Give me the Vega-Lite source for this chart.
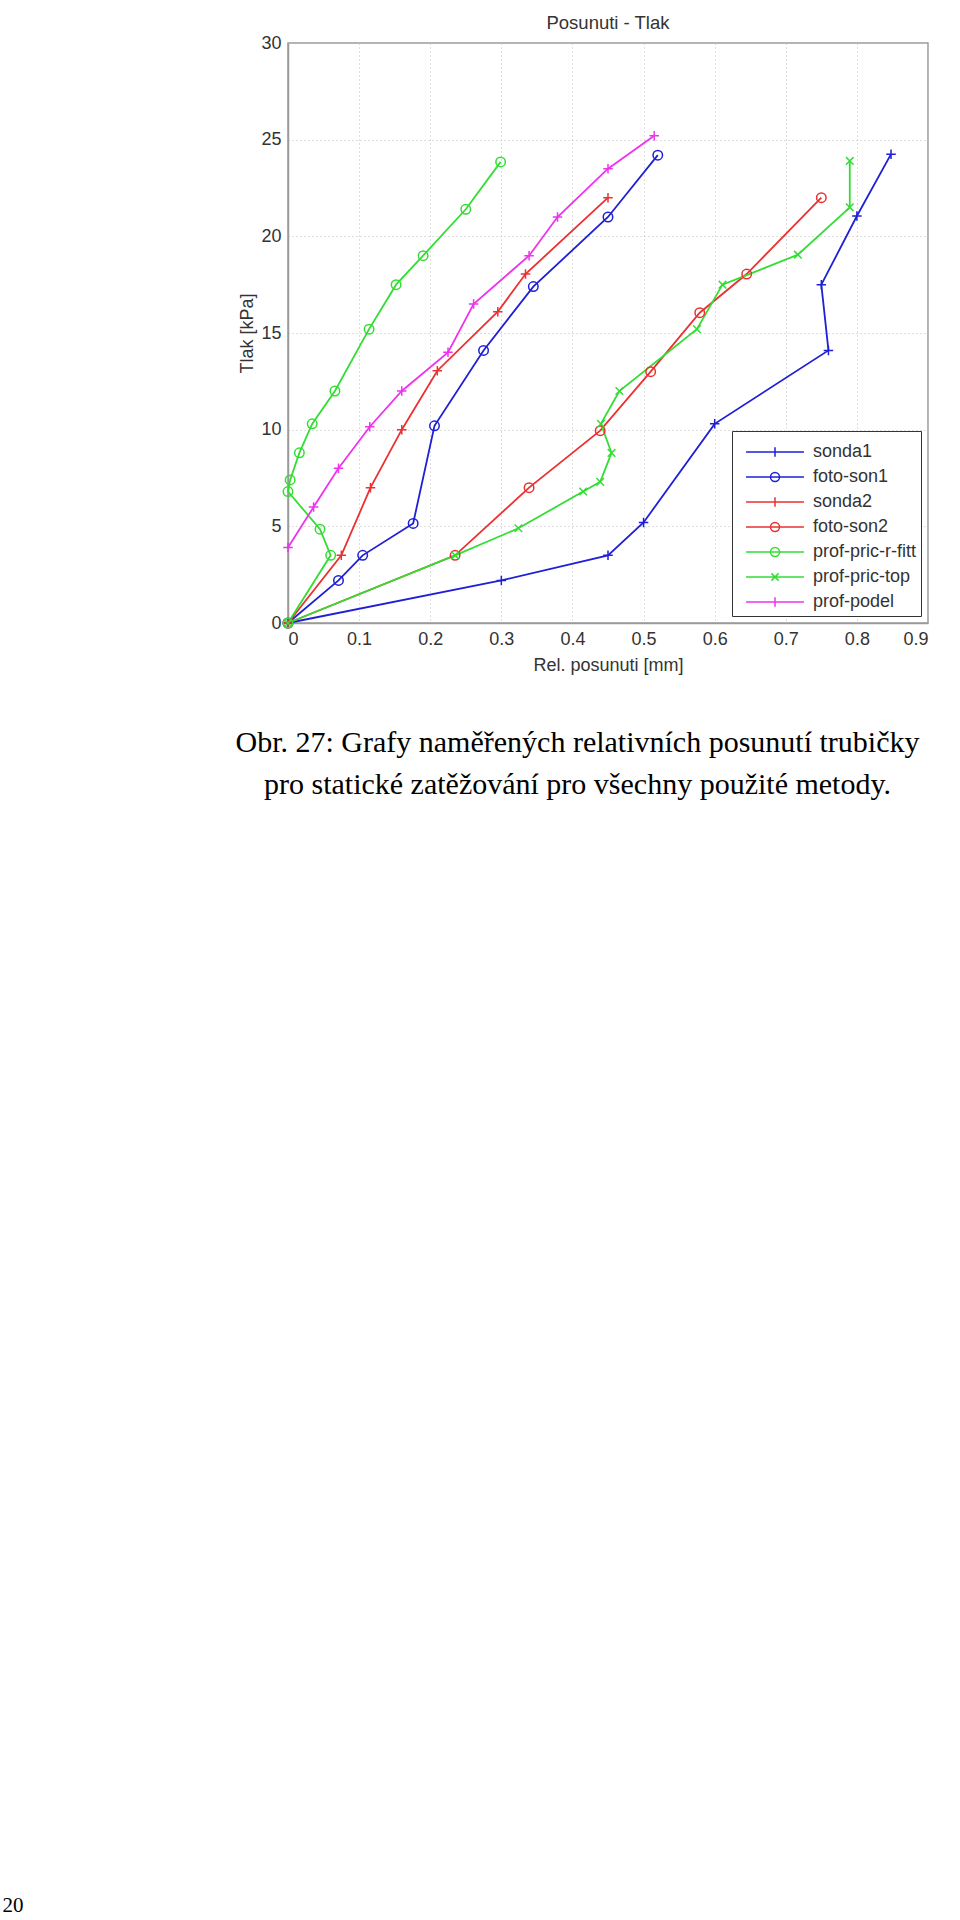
{
  "$schema": "https://vega.github.io/schema/vega-lite/v6.json",
  "background": "white",
  "padding": {"left": 2, "top": 12, "right": 0, "bottom": 0},
  "config": {
    "font": "Liberation Sans",
    "view": {"stroke": "#9a9a9a", "strokeWidth": 1.5},
    "axis": {
      "labelFont": "Liberation Sans", "labelFontSize": 18, "labelColor": "#333333",
      "titleFont": "Liberation Sans", "titleFontSize": 18, "titleFontWeight": "normal", "titleColor": "#333333",
      "domainColor": "#9a9a9a", "domainWidth": 1.5, "ticks": false,
      "gridColor": "#bdbdbd", "gridDash": [1, 3], "gridWidth": 1, "labelPadding": 7
    }
  },
  "title": {"text": "20", "orient": "bottom", "anchor": "start", "frame": "bounds", "dx": -233, "offset": 1095, "font": "Liberation Serif", "fontSize": 21, "fontWeight": "normal", "color": "#000000"},
  "resolve": {"scale": {"color": "independent", "shape": "independent"}, "legend": {"color": "independent", "shape": "independent"}},
  "vconcat": [
    {
      "title": {"text": ["Obr. 27: Grafy naměřených relativních posunutí trubičky", "pro statické zatěžování pro všechny použité metody."], "orient": "bottom", "anchor": "middle", "frame": "bounds", "dx": -6, "offset": 53, "font": "Liberation Serif", "fontSize": 30, "lineHeight": 42, "fontWeight": "normal", "color": "#000000"},
      "resolve": {"scale": {"color": "independent", "shape": "independent"}, "legend": {"color": "independent", "shape": "independent"}},
      "vconcat": [
        {
          "title": {"text": "Posunuti - Tlak", "anchor": "middle", "font": "Liberation Sans", "fontSize": 18.5, "fontWeight": "normal", "color": "#333333", "offset": 2},
          "width": 640,
          "height": 580,
          "data": {"values": [
            {"s": "sonda1", "i": 0, "x": 0, "y": 0},
            {"s": "sonda1", "i": 1, "x": 0.3, "y": 2.2},
            {"s": "sonda1", "i": 2, "x": 0.45, "y": 3.5},
            {"s": "sonda1", "i": 3, "x": 0.5, "y": 5.2},
            {"s": "sonda1", "i": 4, "x": 0.6, "y": 10.3},
            {"s": "sonda1", "i": 5, "x": 0.76, "y": 14.1},
            {"s": "sonda1", "i": 6, "x": 0.75, "y": 17.5},
            {"s": "sonda1", "i": 7, "x": 0.8, "y": 21.05},
            {"s": "sonda1", "i": 8, "x": 0.848, "y": 24.25},
            {"s": "foto-son1", "i": 0, "x": 0, "y": 0},
            {"s": "foto-son1", "i": 1, "x": 0.071, "y": 2.2},
            {"s": "foto-son1", "i": 2, "x": 0.105, "y": 3.5},
            {"s": "foto-son1", "i": 3, "x": 0.176, "y": 5.15},
            {"s": "foto-son1", "i": 4, "x": 0.206, "y": 10.2},
            {"s": "foto-son1", "i": 5, "x": 0.275, "y": 14.1},
            {"s": "foto-son1", "i": 6, "x": 0.345, "y": 17.4},
            {"s": "foto-son1", "i": 7, "x": 0.45, "y": 21.0},
            {"s": "foto-son1", "i": 8, "x": 0.52, "y": 24.2},
            {"s": "sonda2", "i": 0, "x": 0, "y": 0},
            {"s": "sonda2", "i": 1, "x": 0.075, "y": 3.5},
            {"s": "sonda2", "i": 2, "x": 0.116, "y": 7.0},
            {"s": "sonda2", "i": 3, "x": 0.16, "y": 10.0},
            {"s": "sonda2", "i": 4, "x": 0.21, "y": 13.05},
            {"s": "sonda2", "i": 5, "x": 0.295, "y": 16.1},
            {"s": "sonda2", "i": 6, "x": 0.334, "y": 18.05},
            {"s": "sonda2", "i": 7, "x": 0.45, "y": 22.0},
            {"s": "foto-son2", "i": 0, "x": 0, "y": 0},
            {"s": "foto-son2", "i": 1, "x": 0.235, "y": 3.5},
            {"s": "foto-son2", "i": 2, "x": 0.339, "y": 7.0},
            {"s": "foto-son2", "i": 3, "x": 0.439, "y": 9.95},
            {"s": "foto-son2", "i": 4, "x": 0.51, "y": 13.0},
            {"s": "foto-son2", "i": 5, "x": 0.579, "y": 16.05},
            {"s": "foto-son2", "i": 6, "x": 0.645, "y": 18.05},
            {"s": "foto-son2", "i": 7, "x": 0.75, "y": 22.0},
            {"s": "prof-pric-r-fitt", "i": 0, "x": 0, "y": 0},
            {"s": "prof-pric-r-fitt", "i": 1, "x": 0.06, "y": 3.5},
            {"s": "prof-pric-r-fitt", "i": 2, "x": 0.045, "y": 4.85},
            {"s": "prof-pric-r-fitt", "i": 3, "x": 0.0, "y": 6.8},
            {"s": "prof-pric-r-fitt", "i": 4, "x": 0.003, "y": 7.4},
            {"s": "prof-pric-r-fitt", "i": 5, "x": 0.016, "y": 8.8},
            {"s": "prof-pric-r-fitt", "i": 6, "x": 0.034, "y": 10.3},
            {"s": "prof-pric-r-fitt", "i": 7, "x": 0.066, "y": 12.0},
            {"s": "prof-pric-r-fitt", "i": 8, "x": 0.114, "y": 15.2},
            {"s": "prof-pric-r-fitt", "i": 9, "x": 0.152, "y": 17.5},
            {"s": "prof-pric-r-fitt", "i": 10, "x": 0.19, "y": 19.0},
            {"s": "prof-pric-r-fitt", "i": 11, "x": 0.25, "y": 21.4},
            {"s": "prof-pric-r-fitt", "i": 12, "x": 0.299, "y": 23.85},
            {"s": "prof-pric-top", "i": 0, "x": 0, "y": 0},
            {"s": "prof-pric-top", "i": 1, "x": 0.235, "y": 3.5},
            {"s": "prof-pric-top", "i": 2, "x": 0.324, "y": 4.9},
            {"s": "prof-pric-top", "i": 3, "x": 0.415, "y": 6.8},
            {"s": "prof-pric-top", "i": 4, "x": 0.439, "y": 7.3},
            {"s": "prof-pric-top", "i": 5, "x": 0.455, "y": 8.8},
            {"s": "prof-pric-top", "i": 6, "x": 0.44, "y": 10.3},
            {"s": "prof-pric-top", "i": 7, "x": 0.466, "y": 12.0},
            {"s": "prof-pric-top", "i": 8, "x": 0.575, "y": 15.2},
            {"s": "prof-pric-top", "i": 9, "x": 0.611, "y": 17.5},
            {"s": "prof-pric-top", "i": 10, "x": 0.717, "y": 19.05},
            {"s": "prof-pric-top", "i": 11, "x": 0.79, "y": 21.5},
            {"s": "prof-pric-top", "i": 12, "x": 0.79, "y": 23.9},
            {"s": "prof-podel", "i": 0, "x": 0, "y": 3.9},
            {"s": "prof-podel", "i": 1, "x": 0.036, "y": 6.0},
            {"s": "prof-podel", "i": 2, "x": 0.071, "y": 8.0},
            {"s": "prof-podel", "i": 3, "x": 0.115, "y": 10.15},
            {"s": "prof-podel", "i": 4, "x": 0.16, "y": 12.0},
            {"s": "prof-podel", "i": 5, "x": 0.225, "y": 14.0},
            {"s": "prof-podel", "i": 6, "x": 0.261, "y": 16.5},
            {"s": "prof-podel", "i": 7, "x": 0.339, "y": 19.0},
            {"s": "prof-podel", "i": 8, "x": 0.379, "y": 21.0},
            {"s": "prof-podel", "i": 9, "x": 0.45, "y": 23.5},
            {"s": "prof-podel", "i": 10, "x": 0.515, "y": 25.2}
          ]},
          "encoding": {
            "x": {"field": "x", "type": "quantitative", "scale": {"domain": [0, 0.9], "nice": false},
                  "axis": {"values": [0, 0.1, 0.2, 0.3, 0.4, 0.5, 0.6, 0.7, 0.8, 0.9], "format": "~g", "title": "Rel. posunuti [mm]", "titlePadding": 8}},
            "y": {"field": "y", "type": "quantitative", "scale": {"domain": [0, 30], "nice": false},
                  "axis": {"values": [0, 5, 10, 15, 20, 25, 30], "format": "d", "title": "Tlak [kPa]", "titlePadding": 4}},
            "color": {"field": "s", "type": "nominal",
                      "scale": {"domain": ["sonda1", "foto-son1", "sonda2", "foto-son2", "prof-pric-r-fitt", "prof-pric-top", "prof-podel"],
                                "range": ["#1f1fd6", "#1f1fd6", "#ec3030", "#ec3030", "#33dd33", "#33dd33", "#ee33ee"]},
                      "legend": {"orient": "bottom-right", "offset": 7, "title": null,
                                 "symbolType": {"expr": "datum.value === 'foto-son1' || datum.value === 'foto-son2' || datum.value === 'prof-pric-r-fitt' ? 'M-1.93,0H1.93M0.3,0A0.3,0.3,0,1,1,-0.3,0A0.3,0.3,0,1,1,0.3,0' : datum.value === 'prof-pric-top' ? 'M-1.93,0H1.93M-0.24,-0.24L0.24,0.24M-0.24,0.24L0.24,-0.24' : 'M-1.93,0H1.93M0,-0.31V0.31'"},
                                 "symbolSize": 900, "symbolStrokeWidth": 1.5, "symbolOpacity": 1, "symbolOffset": 22, "symbolFillColor": "transparent",
                                 "labelFont": "Liberation Sans", "labelFontSize": 18, "labelColor": "#333333", "labelOffset": 22,
                                 "strokeColor": "#333333", "fillColor": "white", "padding": 5, "rowPadding": 0, "cornerRadius": 0}}
          },
          "layer": [
            {"mark": {"type": "line", "strokeWidth": 1.8}, "encoding": {"order": {"field": "i", "type": "quantitative"}}},
            {"mark": {"type": "point", "filled": false, "strokeWidth": 1.5, "size": 90, "opacity": 1},
             "encoding": {"shape": {"field": "s", "type": "nominal", "legend": null,
                                     "scale": {"domain": ["foto-son1", "foto-son2", "prof-podel", "prof-pric-r-fitt", "prof-pric-top", "sonda1", "sonda2"],
                                               "range": ["circle", "circle", "M-1,0H1M0,-1V1", "circle", "M-0.8,-0.8L0.8,0.8M-0.8,0.8L0.8,-0.8", "M-1,0H1M0,-1V1", "M-1,0H1M0,-1V1"]}}}}
          ]
        }
      ]
    }
  ]
}
